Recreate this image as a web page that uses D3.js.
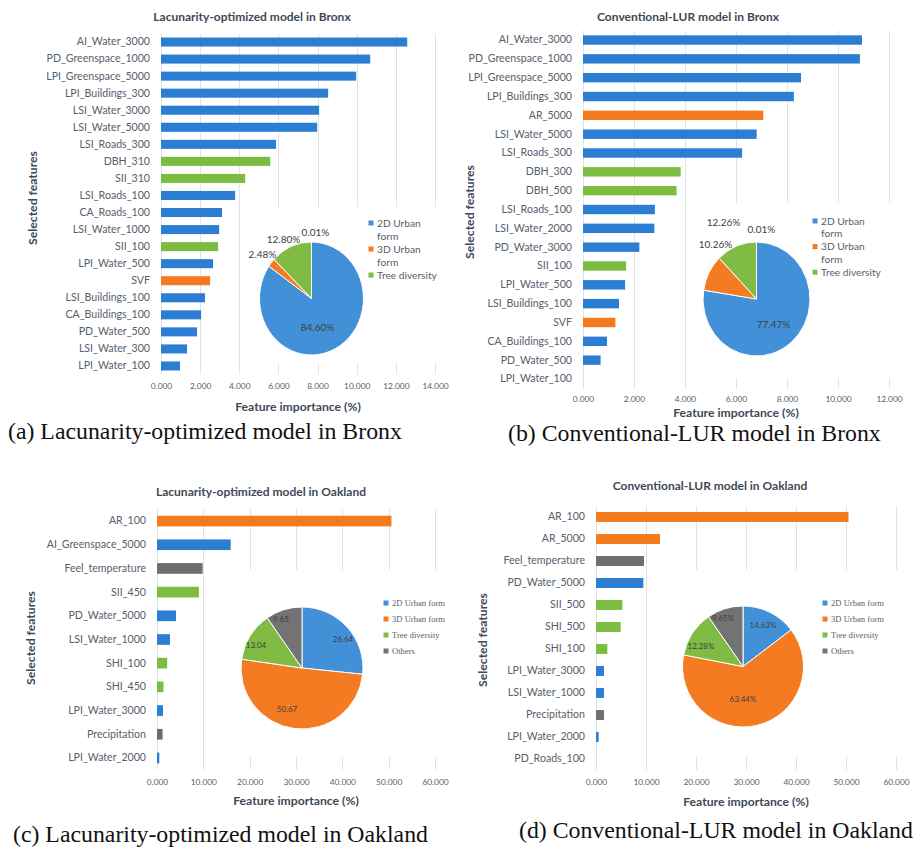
<!DOCTYPE html>
<html><head><meta charset="utf-8">
<script src="https://cdn.jsdelivr.net/npm/d3@7"></script>
<style>body{margin:0;background:#fff;} svg{display:block;}</style>
</head><body>
<svg id="chart" width="921" height="849"></svg>
<script>
// ---------------- DATA ----------------
const groupNames = ["2D Urban form", "3D Urban form", "Tree diversity", "Others"];

// (a) Lacunarity-optimized model in Bronx
const bronxLacFeatures = ["AI_Water_3000","PD_Greenspace_1000","LPI_Greenspace_5000","LPI_Buildings_300","LSI_Water_3000","LSI_Water_5000","LSI_Roads_300","DBH_310","SII_310","LSI_Roads_100","CA_Roads_100","LSI_Water_1000","SII_100","LPI_Water_500","SVF","LSI_Buildings_100","CA_Buildings_100","PD_Water_500","LSI_Water_300","LPI_Water_100"];
const bronxLacValues = [12.58,10.69,9.97,8.54,8.08,7.98,5.88,5.58,4.30,3.79,3.12,2.97,2.92,2.66,2.51,2.25,2.05,1.84,1.33,0.97];
const bronxLacGroups = ["2D Urban form","2D Urban form","2D Urban form","2D Urban form","2D Urban form","2D Urban form","2D Urban form","Tree diversity","Tree diversity","2D Urban form","2D Urban form","2D Urban form","Tree diversity","2D Urban form","3D Urban form","2D Urban form","2D Urban form","2D Urban form","2D Urban form","2D Urban form"];
const bronxLacTicks = [0,2,4,6,8,10,12,14];
const bronxLacPieValues = [84.60, 2.48, 12.80, 0.01];
const bronxLacPieLabels = ["84.60%","2.48%","12.80%","0.01%"];

// (b) Conventional-LUR model in Bronx
const bronxLurFeatures = ["AI_Water_3000","PD_Greenspace_1000","LPI_Greenspace_5000","LPI_Buildings_300","AR_5000","LSI_Water_5000","LSI_Roads_300","DBH_300","DBH_500","LSI_Roads_100","LSI_Water_2000","PD_Water_3000","SII_100","LPI_Water_500","LSI_Buildings_100","SVF","CA_Buildings_100","PD_Water_500","LPI_Water_100"];
const bronxLurValues = [10.94,10.86,8.55,8.27,7.07,6.81,6.24,3.83,3.67,2.82,2.80,2.21,1.69,1.65,1.41,1.27,0.94,0.69,0.0];
const bronxLurGroups = ["2D Urban form","2D Urban form","2D Urban form","2D Urban form","3D Urban form","2D Urban form","2D Urban form","Tree diversity","Tree diversity","2D Urban form","2D Urban form","2D Urban form","Tree diversity","2D Urban form","2D Urban form","3D Urban form","2D Urban form","2D Urban form","2D Urban form"];
const bronxLurTicks = [0,2,4,6,8,10,12];
const bronxLurPieValues = [77.47, 10.26, 12.26, 0.01];
const bronxLurPieLabels = ["77.47%","10.26%","12.26%","0.01%"];

// (c) Lacunarity-optimized model in Oakland
const oakLacFeatures = ["AR_100","AI_Greenspace_5000","Feel_temperature","SII_450","PD_Water_5000","LSI_Water_1000","SHI_100","SHI_450","LPI_Water_3000","Precipitation","LPI_Water_2000"];
const oakLacValues = [50.6,15.9,9.85,9.05,4.1,2.8,2.2,1.4,1.3,1.2,0.5];
const oakLacGroups = ["3D Urban form","2D Urban form","Others","Tree diversity","2D Urban form","2D Urban form","Tree diversity","Tree diversity","2D Urban form","Others","2D Urban form"];
const oakLacTicks = [0,10,20,30,40,50,60];
const oakLacPieValues = [26.64, 50.67, 13.04, 9.65];
const oakLacPieLabels = ["26.64","50.67","13.04","9.65"];

// (d) Conventional-LUR model in Oakland
const oakLurFeatures = ["AR_100","AR_5000","Feel_temperature","PD_Water_5000","SII_500","SHI_500","SHI_100","LPI_Water_3000","LSI_Water_1000","Precipitation","LPI_Water_2000","PD_Roads_100"];
const oakLurValues = [50.5,12.8,9.6,9.47,5.27,4.93,2.27,1.6,1.6,1.6,0.53,0.0];
const oakLurGroups = ["3D Urban form","3D Urban form","Others","2D Urban form","Tree diversity","Tree diversity","Tree diversity","2D Urban form","2D Urban form","Others","2D Urban form","2D Urban form"];
const oakLurTicks = [0,10,20,30,40,50,60];
const oakLurPieValues = [14.63, 63.44, 12.28, 9.65];
const oakLurPieLabels = ["14.63%","63.44%","12.28%","9.65%"];

// ---------------- STYLE ----------------
const barColor = {"2D Urban form":"#2b7ed2","3D Urban form":"#f47a20","Tree diversity":"#7cbd41","Others":"#6e6e6e"};
const pieColor = {"2D Urban form":"#4290d8","3D Urban form":"#f47b22","Tree diversity":"#80bb44","Others":"#737373"};
const SANS = "Lato, 'Open Sans', sans-serif";
const SERIF = "'Liberation Serif', 'Times New Roman', serif";
const labelColor = "#56606c";
const titleColor = "#3e4856";
const gridColor = "#dfe4ea";

const svg = d3.select("#chart");

const panels = [
  {title:"Lacunarity-optimized model in Bronx", caption:"(a) Lacunarity-optimized model in Bronx",
   features:bronxLacFeatures, values:bronxLacValues, groups:bronxLacGroups, ticks:bronxLacTicks,
   pieValues:bronxLacPieValues, pieLabels:bronxLacPieLabels, pieGroups:["2D Urban form","3D Urban form","Tree diversity","Others"],
   legendGroups:["2D Urban form","3D Urban form","Tree diversity"],
   L:{x0:161,x1:435,top:33.5,bottom:374.5,pad:0.47,tickPad:9,titleX:252,titleY:17,axTitleY:407,yTitleX:33,yTitleY:198,capX:8,capY:439,
      box:[243,207,210,156], cx:311.5, cy:298.5, r:52, sy:56.5/52, labelOff:[[6,29],[-49,-44],[-28,-59],[4,-66]],
      legX:371, legY:223, legStep:13, wrap:true, legFont:SANS, legSize:10.2, pieFont:SANS, pieSize:10}},
  {title:"Conventional-LUR model in Bronx", caption:"(b) Conventional-LUR model in Bronx",
   features:bronxLurFeatures, values:bronxLurValues, groups:bronxLurGroups, ticks:bronxLurTicks,
   pieValues:bronxLurPieValues, pieLabels:bronxLurPieLabels, pieGroups:["2D Urban form","3D Urban form","Tree diversity","Others"],
   legendGroups:["2D Urban form","3D Urban form","Tree diversity"],
   L:{x0:583,x1:889,top:30.6,bottom:388.4,pad:0.5,tickPad:8,titleX:688,titleY:17,axTitleY:412.5,yTitleX:470,yTitleY:212,capX:508,capY:441,
      box:[690,203,231,175], cx:756.5, cy:299, r:53.5, sy:57/53.5, labelOff:[[17,25],[-41,-55],[-33,-77],[5,-70]],
      legX:815, legY:221, legStep:12.8, wrap:true, legFont:SANS, legSize:10.2, pieFont:SANS, pieSize:10}},
  {title:"Lacunarity-optimized model in Oakland", caption:"(c) Lacunarity-optimized model in Oakland",
   features:oakLacFeatures, values:oakLacValues, groups:oakLacGroups, ticks:oakLacTicks,
   pieValues:oakLacPieValues, pieLabels:oakLacPieLabels, pieGroups:["2D Urban form","3D Urban form","Tree diversity","Others"],
   legendGroups:["2D Urban form","3D Urban form","Tree diversity","Others"],
   L:{x0:157,x1:435,top:509.2,bottom:769.8,pad:0.55,tickPad:9,titleX:261,titleY:492,axTitleY:801,yTitleX:31,yTitleY:638,capX:13,capY:842,
      box:[210,570,250,187], cx:302, cy:668, r:61, sy:1, labelOff:[[41,-29],[-15,41],[-46,-23],[-21,-49]],
      legX:386, legY:603, legStep:16, wrap:false, legFont:SERIF, legSize:8.6, pieFont:SANS, pieSize:8}},
  {title:"Conventional-LUR model in Oakland", caption:"(d) Conventional-LUR model in Oakland",
   features:oakLurFeatures, values:oakLurValues, groups:oakLurGroups, ticks:oakLurTicks,
   pieValues:oakLurPieValues, pieLabels:oakLurPieLabels, pieGroups:["2D Urban form","3D Urban form","Tree diversity","Others"],
   legendGroups:["2D Urban form","3D Urban form","Tree diversity","Others"],
   L:{x0:596,x1:896,top:506,bottom:770,pad:0.55,tickPad:9,titleX:710,titleY:486,axTitleY:802,yTitleX:483,yTitleY:640,capX:519,capY:838,
      box:[655,570,266,186], cx:743, cy:666.5, r:60.5, sy:1, labelOff:[[20,-41],[0,33],[-42,-20],[-20,-48]],
      legX:825, legY:603, legStep:16, wrap:false, legFont:SERIF, legSize:8.6, pieFont:SANS, pieSize:8}}
];

function drawPanel(p) {
  const L = p.L;
  const g = svg.append("g");
  const x = d3.scaleLinear().domain([0, d3.max(p.ticks)]).range([L.x0, L.x1]);
  const y = d3.scaleBand().domain(p.features).range([L.top, L.bottom]).paddingInner(L.pad).paddingOuter(L.pad/2);

  // gridlines
  g.append("g").selectAll("line").data(p.ticks).join("line")
    .attr("x1", d => Math.round(x(d)) + 0.5).attr("x2", d => Math.round(x(d)) + 0.5)
    .attr("y1", L.top).attr("y2", L.bottom)
    .attr("stroke", gridColor).attr("stroke-width", 1);

  // white plot area of the inset pie chart
  g.append("rect").attr("x", L.box[0]).attr("y", L.box[1]).attr("width", L.box[2]).attr("height", L.box[3]).attr("fill", "#fff");

  // bars
  const rows = p.features.map((f, i) => ({f, v: p.values[i], grp: p.groups[i]}));
  g.append("g").selectAll("rect").data(rows).join("rect")
    .attr("x", x(0)).attr("y", d => y(d.f))
    .attr("width", d => x(d.v) - x(0)).attr("height", y.bandwidth())
    .attr("fill", d => barColor[d.grp]);

  // y axis labels
  const ya = g.append("g").attr("transform", `translate(${L.x0},0)`)
    .call(d3.axisLeft(y).tickSize(0).tickPadding(11));
  ya.select(".domain").remove();
  ya.selectAll("text").attr("font-family", SANS).attr("font-size", 10.6).attr("fill", labelColor);

  // x axis
  const xa = g.append("g").attr("transform", `translate(0,${L.bottom})`)
    .call(d3.axisBottom(x).tickValues(p.ticks).tickFormat(d3.format(".3f")).tickSize(0).tickPadding(L.tickPad));
  xa.select(".domain").remove();
  xa.selectAll("text").attr("font-family", SANS).attr("font-size", 8.4).attr("fill", labelColor);

  // titles
  g.append("text").attr("x", L.titleX).attr("y", L.titleY).attr("dy", "0.35em").attr("text-anchor", "middle")
    .attr("font-family", SANS).attr("font-weight", 700).attr("font-size", 12).attr("fill", titleColor).text(p.title);
  g.append("text").attr("x", (L.x0 + L.x1) / 2).attr("y", L.axTitleY).attr("dy", "0.35em").attr("text-anchor", "middle")
    .attr("font-family", SANS).attr("font-weight", 700).attr("font-size", 12.2).attr("fill", titleColor).text("Feature importance (%)");
  g.append("text").attr("transform", `translate(${L.yTitleX},${L.yTitleY}) rotate(-90)`).attr("dy", "0.35em").attr("text-anchor", "middle")
    .attr("font-family", SANS).attr("font-weight", 700).attr("font-size", 12.2).attr("fill", titleColor).text("Selected features");
  g.append("text").attr("x", L.capX).attr("y", L.capY)
    .attr("font-family", SERIF).attr("font-size", 23.8).attr("fill", "#111").text(p.caption);

  // pie
  const pieData = d3.pie().sort(null).value(d => d.v)(p.pieValues.map((v, i) => ({v, grp: p.pieGroups[i], label: p.pieLabels[i]})));
  const arc = d3.arc().innerRadius(0).outerRadius(L.r);
  g.append("g").attr("transform", `translate(${L.cx},${L.cy}) scale(1,${L.sy})`)
    .selectAll("path").data(pieData).join("path")
    .attr("d", arc).attr("fill", d => pieColor[d.data.grp])
    .attr("stroke", "#fff").attr("stroke-width", 1).attr("vector-effect", "non-scaling-stroke");
  g.append("g").selectAll("text").data(pieData).join("text")
    .attr("x", (d, i) => L.cx + L.labelOff[i][0]).attr("y", (d, i) => L.cy + L.labelOff[i][1])
    .attr("dy", "0.35em").attr("text-anchor", "middle")
    .attr("font-family", L.pieFont).attr("font-size", L.pieSize).attr("fill", "#404040")
    .text(d => d.data.label);

  // legend
  let yy = L.legY;
  p.legendGroups.forEach(grp => {
    const lines = L.wrap ? grp.replace(" form", "\nform").split("\n") : [grp];
    g.append("rect").attr("x", L.legX - 2.5).attr("y", yy - 2.5).attr("width", 5).attr("height", 5).attr("fill", pieColor[grp]);
    lines.forEach((ln, k) => {
      g.append("text").attr("x", L.legX + 6).attr("y", yy + k * L.legStep).attr("dy", "0.35em")
        .attr("font-family", L.legFont).attr("font-size", L.legSize).attr("fill", labelColor).text(ln);
    });
    yy += lines.length * L.legStep;
  });
}

panels.forEach(drawPanel);
</script>
</body></html>
